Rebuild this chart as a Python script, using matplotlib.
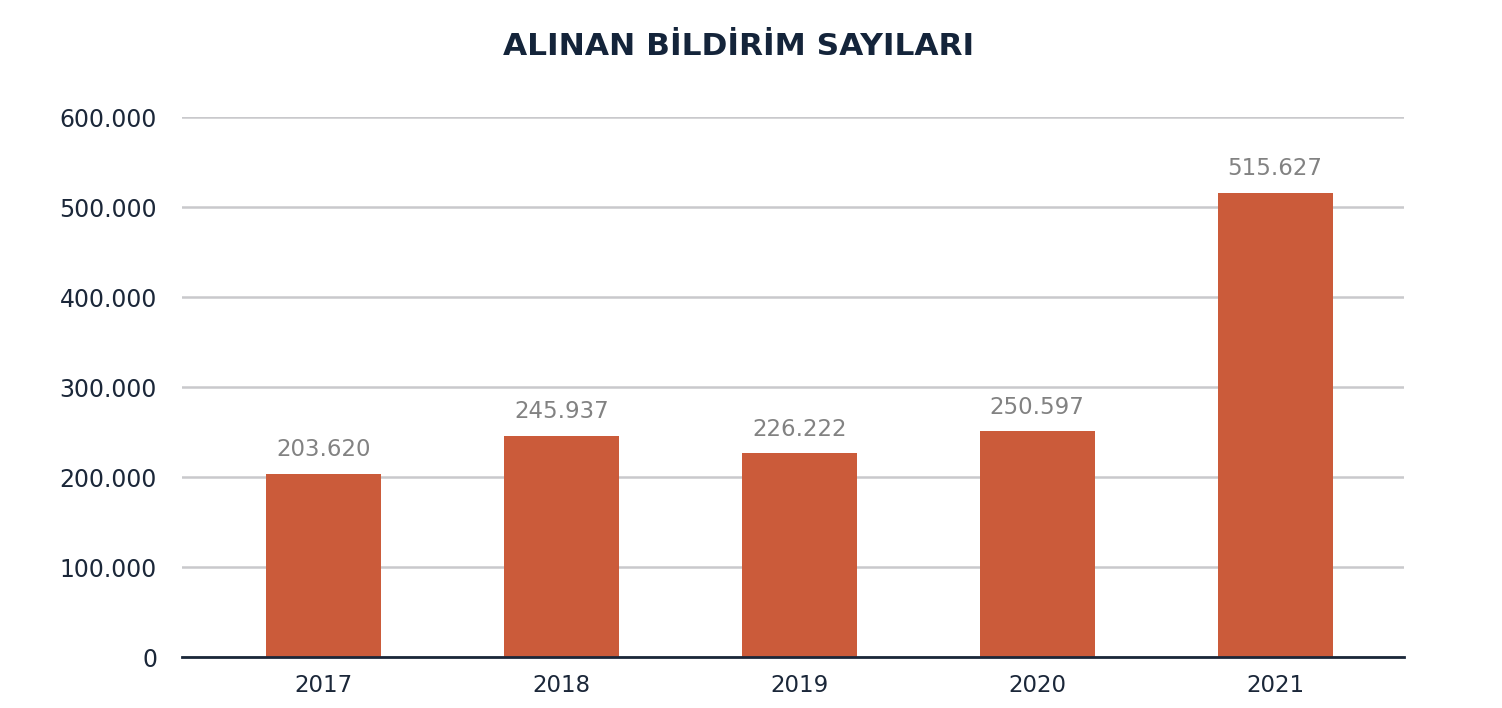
import numpy as np
import matplotlib.pyplot as plt
from matplotlib.ticker import FuncFormatter

years = ['2017', '2018', '2019', '2020', '2021']
counts = [203620, 245937, 226222, 250597, 515627]
value_labels = ['203.620', '245.937', '226.222', '250.597', '515.627']
yticks = [0, 100000, 200000, 300000, 400000, 500000, 600000]

plt.rcParams['font.family'] = ['DejaVu Sans']

dark = '#1b2739'
bar_color = '#cb5b3a'

fig = plt.figure(figsize=(15.02, 7.08), dpi=100)
ax = fig.add_axes([0.1212, 0.072, 0.8136, 0.7627])

x = np.arange(len(years))
bars = ax.bar(x, counts, width=0.483, color=bar_color, zorder=3)

for xi, c, lab in zip(x, counts, value_labels):
    ax.annotate(lab, (xi, c), xytext=(0, 9), textcoords='offset points',
                ha='center', va='bottom', fontsize=16.5, color='#828282')

ax.set_xlim(-0.595, 4.542)
ax.set_ylim(0, 600000)
ax.set_yticks(yticks)
ax.yaxis.set_major_formatter(FuncFormatter(lambda v, p: '0' if v == 0 else f'{int(v):,}'.replace(',', '.')))
ax.set_xticks(x)
ax.set_xticklabels(years)

ax.grid(axis='y', color='#c9c9cc', linewidth=1.8, zorder=0)
for s in ['top', 'right', 'left']:
    ax.spines[s].set_visible(False)
ax.spines['bottom'].set_color(dark)
ax.spines['bottom'].set_linewidth(2)
ax.spines['bottom'].set_zorder(4)
ax.tick_params(axis='y', length=0, labelsize=17, colors=dark, pad=18)
ax.tick_params(axis='x', length=0, labelsize=16.5, colors=dark, pad=12)

fig.text(0.4917, 0.935, 'ALINAN BİLDİRİM SAYILARI', ha='center', va='center',
         fontsize=22.5, fontweight='bold', color='#14243a')

fig.savefig('out.png', dpi=100)
